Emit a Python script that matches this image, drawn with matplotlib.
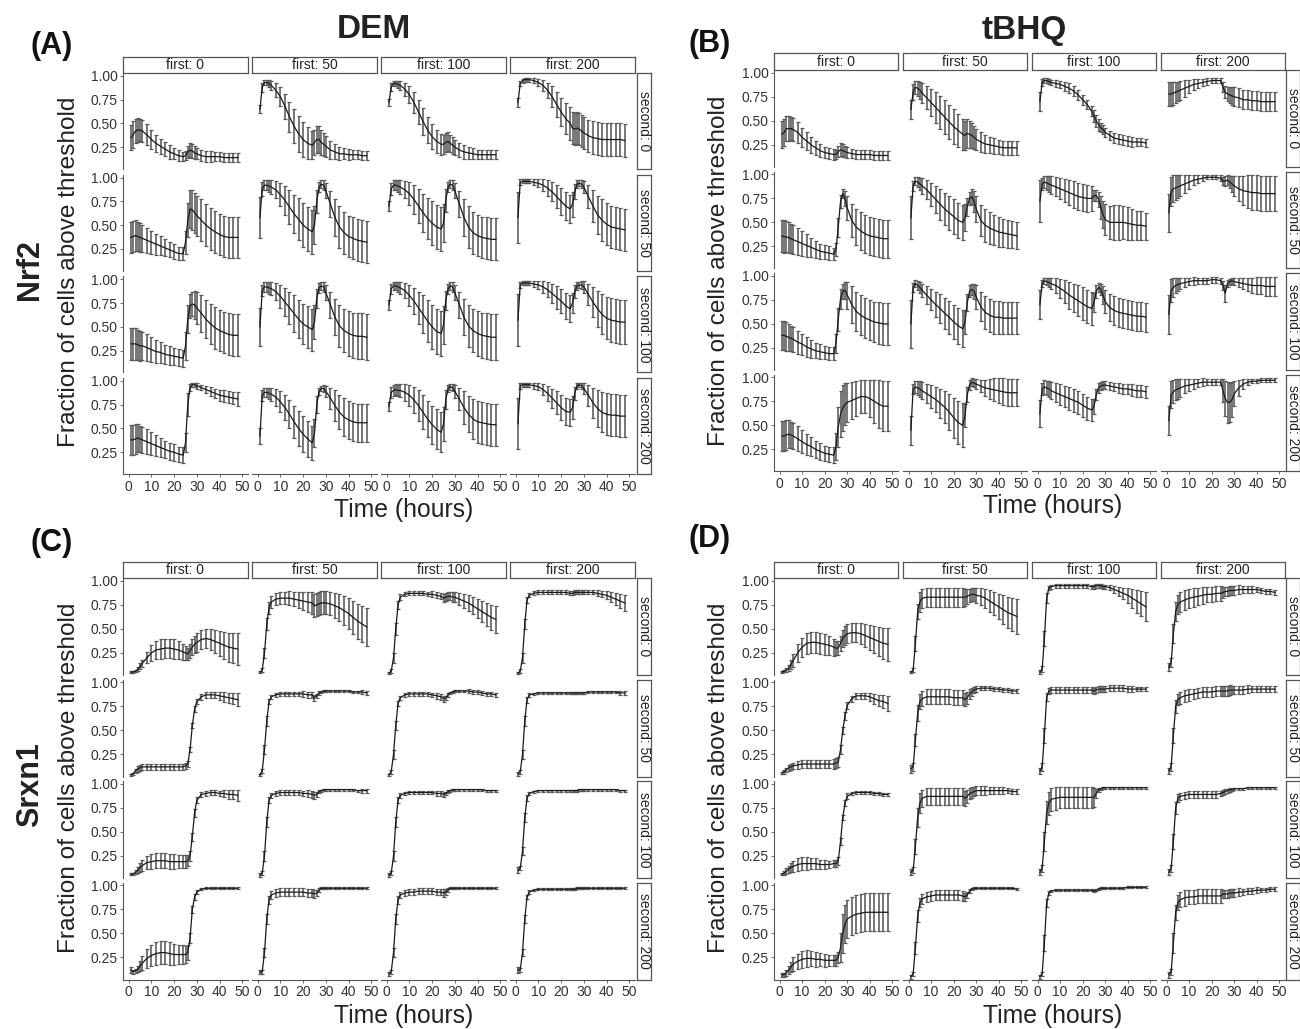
import numpy as np
import matplotlib
matplotlib.use("Agg")
import matplotlib.pyplot as plt

plt.rcParams['font.family'] = ['Liberation Sans', 'DejaVu Sans']

# time points (hours) shared by every series
TIME = [1, 2, 3, 4, 5, 6, 8, 10, 12, 14, 16, 18, 20, 22, 24,
        25, 26, 27, 28, 29, 30, 32, 34, 36, 38, 40, 42, 44, 46, 48]

FIRST_DOSES = [0, 50, 100, 200]
SECOND_DOSES = [0, 50, 100, 200]
X_TICKS = [0, 10, 20, 30, 40, 50]
Y_TICKS = [0.25, 0.50, 0.75, 1.00]

# values in percent, [second dose row][first dose column]
NRF2_DEM_MEAN = [
    [[35,38,42,43,43,42,38,33,29,26,23,20,18,16,15,16,20,22,21,19,18,16,15,15,15,15,14,14,14,14],
     [65,88,93,93,92,90,85,78,68,57,47,39,33,29,27,30,33,33,30,28,26,22,20,18,18,17,17,17,16,16],
     [72,88,92,92,91,90,86,80,72,62,52,43,36,31,28,28,30,31,29,27,25,22,20,19,18,17,17,17,17,17],
     [72,92,95,96,96,96,95,93,90,85,78,70,62,55,50,45,44,45,44,42,40,37,35,34,33,33,33,33,33,32]],
    [[37,38,39,38,37,36,34,32,30,28,26,24,22,20,20,32,55,67,66,63,60,55,50,46,43,40,38,37,37,37],
     [58,88,92,92,91,90,87,82,76,69,62,56,50,46,43,50,75,90,93,92,86,72,58,48,42,38,36,34,33,32],
     [70,88,92,92,91,90,87,83,77,70,63,57,52,48,46,52,76,90,93,92,86,72,58,48,42,39,37,36,35,35],
     [58,95,96,96,96,96,95,94,92,89,85,80,75,70,67,72,85,93,94,93,90,80,70,61,55,51,48,47,46,45]],
    [[32,32,32,31,30,30,28,26,24,23,21,20,19,18,17,30,58,72,74,73,70,64,58,53,49,46,44,42,41,41],
     [50,88,92,92,91,90,87,82,76,70,64,58,53,50,47,55,80,91,93,92,86,73,60,51,46,43,41,40,40,39],
     [73,90,93,93,92,91,88,83,77,70,63,56,50,45,43,52,78,90,93,92,86,73,60,51,46,43,41,40,39,39],
     [57,94,96,96,96,96,95,94,92,89,85,81,77,72,69,75,87,93,94,94,92,84,76,69,63,59,57,56,55,55]],
    [[38,38,39,40,39,38,36,34,32,30,28,26,25,23,22,35,75,93,96,96,95,93,91,89,87,85,84,83,82,81],
     [42,85,88,88,87,86,83,78,72,65,57,50,44,39,35,45,75,89,92,92,89,82,74,67,62,59,57,56,56,56],
     [73,88,90,91,90,90,88,85,80,74,67,60,54,49,46,55,80,92,94,93,89,81,72,65,60,57,56,55,54,54],
     [55,95,96,96,96,96,95,94,91,87,82,77,72,68,67,72,87,95,96,95,92,85,77,71,67,65,64,64,63,63]],
]
NRF2_DEM_ERR = [
    [[13,14,13,13,12,12,11,10,9,8,7,7,6,6,5,5,6,7,7,7,6,6,6,6,5,5,5,5,5,5],
     [4,5,3,3,4,5,7,10,13,16,18,19,18,17,15,13,14,14,13,12,11,9,8,7,6,6,5,5,5,5],
     [4,4,3,3,4,5,7,9,11,13,14,14,13,12,11,10,10,10,9,9,8,7,7,6,6,5,5,5,5,5],
     [5,3,2,2,2,2,3,4,6,8,11,13,15,16,17,17,17,17,17,17,17,17,17,17,17,17,17,17,17,17]],
    [[16,16,16,15,15,14,13,12,11,10,9,8,8,7,7,12,18,20,21,21,21,22,22,22,22,22,22,22,22,22],
     [22,7,5,5,6,7,9,12,15,18,20,22,23,23,23,20,12,5,4,5,8,14,19,22,22,22,22,22,22,22],
     [5,6,5,5,6,7,9,12,15,18,20,22,23,23,23,20,12,5,4,5,8,14,19,22,22,22,22,22,22,22],
     [27,3,2,2,2,2,3,4,6,8,10,12,14,15,15,13,8,4,3,4,6,12,17,20,22,22,22,22,22,22]],
    [[17,17,17,16,16,15,14,13,12,11,10,10,9,9,9,15,15,13,13,15,17,19,20,21,22,22,22,22,22,22],
     [20,6,5,5,6,7,9,12,15,17,19,20,21,22,22,18,10,5,4,5,8,14,19,22,23,24,24,24,24,24],
     [5,5,4,4,5,6,8,11,14,17,20,22,23,24,24,20,10,5,4,5,8,14,19,22,23,24,24,24,24,24],
     [27,3,2,2,2,2,3,4,6,8,10,12,13,14,14,11,7,4,3,4,6,11,16,19,21,22,23,23,23,23]],
    [[16,16,16,15,14,14,13,12,11,10,9,9,9,8,8,10,12,4,2,2,3,3,4,5,5,6,6,6,6,7],
     [8,6,5,5,6,7,9,11,13,15,17,18,19,19,18,15,9,4,3,4,6,11,16,18,20,20,20,20,20,20],
     [5,6,6,6,6,7,9,11,14,16,18,19,20,21,21,18,10,4,3,4,7,12,17,19,21,22,22,22,22,22],
     [27,3,2,2,2,2,3,4,6,8,10,12,13,14,14,12,7,3,2,3,6,11,16,19,21,22,22,22,22,22]],
]

NRF2_TBHQ_MEAN = [
    [[36,38,42,42,42,41,38,33,29,25,22,19,17,16,15,15,18,20,19,18,17,16,15,15,15,15,14,14,14,14],
     [62,80,85,84,82,79,74,69,64,59,54,49,44,40,36,35,37,36,35,33,31,28,26,25,24,23,22,22,22,22],
     [70,90,92,92,91,90,89,88,86,84,81,77,72,67,60,55,50,46,43,41,38,35,32,31,30,29,28,28,28,27],
     [78,78,79,80,81,82,84,86,88,89,90,91,92,92,92,85,80,78,77,76,75,74,72,72,71,71,70,70,70,70]],
    [[36,35,35,34,33,32,30,28,26,24,22,20,19,18,17,22,45,72,80,75,65,52,45,41,38,36,35,34,33,33],
     [55,88,93,92,90,88,84,79,74,69,64,60,56,52,50,55,66,75,77,72,64,52,47,44,42,40,39,38,37,36],
     [72,90,92,91,90,89,87,85,83,81,79,77,76,75,75,78,78,74,66,58,53,50,50,50,50,49,48,47,47,46],
     [60,82,85,86,87,88,90,92,94,95,96,97,97,97,96,93,93,94,92,90,88,85,83,82,81,81,80,80,80,80]],
    [[38,38,37,36,35,34,31,29,26,24,22,21,20,19,19,30,55,76,84,85,80,70,63,59,56,54,52,51,50,50],
     [50,88,92,90,88,85,80,75,70,66,61,57,52,48,45,52,72,84,86,84,78,68,62,59,57,57,56,56,56,56],
     [70,92,95,94,93,92,90,87,84,80,77,74,71,68,66,72,84,88,86,80,73,67,64,62,61,60,59,58,58,57],
     [60,85,88,90,91,92,93,94,95,95,95,95,96,96,95,90,82,92,94,95,94,93,92,91,90,90,90,89,89,89]],
    [[39,39,40,41,40,39,36,33,30,28,25,23,21,20,19,28,48,62,68,72,74,76,78,80,80,78,75,72,70,70],
     [45,88,90,89,88,86,83,80,77,73,69,64,58,53,50,60,82,92,95,94,93,91,89,88,87,86,85,84,84,84],
     [62,88,90,89,88,86,84,82,80,78,76,74,71,68,66,70,82,89,91,92,92,91,90,89,88,88,87,86,86,85],
     [55,82,85,87,88,89,91,92,93,94,95,95,95,95,95,86,78,74,74,77,83,89,93,95,96,96,97,97,97,97]],
]
NRF2_TBHQ_ERR = [
    [[14,14,13,13,12,12,11,10,9,8,7,7,6,6,6,5,6,7,7,6,6,5,5,5,5,5,5,5,5,5],
     [10,8,7,8,9,10,12,14,16,17,18,18,18,17,16,15,15,14,13,12,11,10,9,8,8,7,7,7,7,7],
     [10,4,3,3,3,3,4,4,5,5,5,5,5,5,5,6,6,6,5,5,5,5,5,5,5,5,5,4,4,4],
     [12,12,12,11,10,10,9,7,6,5,4,4,3,3,3,5,6,7,8,9,10,10,10,10,10,10,10,10,10,10]],
    [[17,17,16,16,15,15,14,13,12,10,9,8,7,7,6,7,10,7,5,8,13,17,19,20,20,20,20,20,20,20],
     [22,5,4,5,6,8,10,12,14,16,17,18,18,18,18,14,9,7,8,11,14,16,17,17,16,16,15,15,14,14],
     [22,6,6,7,8,9,10,11,12,13,14,14,14,14,13,6,6,8,12,14,16,17,18,18,17,17,16,15,15,14],
     [20,15,14,13,12,11,9,7,5,4,3,2,2,2,3,4,5,5,6,8,10,13,15,17,18,18,18,18,18,18]],
    [[15,15,15,14,13,13,12,11,10,9,8,8,7,7,7,10,12,10,8,9,14,19,20,21,21,21,21,22,22,22],
     [25,5,4,5,6,7,9,11,13,15,16,17,18,19,19,12,9,6,6,8,12,15,17,17,17,17,17,17,17,17],
     [15,4,3,4,5,6,8,10,12,14,15,16,17,17,17,10,7,5,6,9,12,14,15,15,15,15,15,15,15,15],
     [20,12,10,8,7,6,5,4,4,3,3,3,3,3,3,5,9,4,3,3,4,5,6,7,8,9,9,10,10,10]],
    [[16,16,16,15,14,14,13,12,11,10,9,9,8,8,8,14,21,24,24,22,20,19,18,17,17,19,22,25,26,26],
     [15,5,6,7,8,9,10,12,13,15,17,19,21,22,23,12,8,5,4,4,5,6,8,10,12,13,14,14,14,14],
     [14,6,7,7,8,9,10,11,11,12,12,12,12,12,11,8,6,5,4,4,4,4,4,5,5,5,6,6,6,6],
     [15,14,12,11,10,9,7,6,5,4,4,3,3,3,3,12,18,21,20,18,13,8,5,3,2,2,2,2,2,2]],
]

SRXN1_DEM_MEAN = [
    [[5,5,6,8,11,14,20,25,28,29,30,30,29,28,26,25,24,27,31,34,36,39,40,39,37,35,33,31,30,29],
     [5,7,25,55,72,78,81,82,82,82,81,80,79,78,77,74,75,76,77,77,77,76,74,72,69,66,62,58,55,52],
     [4,6,20,50,75,83,86,87,87,87,87,86,86,85,84,82,83,84,84,83,83,81,79,77,74,71,68,65,62,60],
     [4,6,20,55,80,85,87,88,88,88,88,88,88,88,87,87,88,88,88,88,88,88,88,87,86,85,83,81,79,77]],
    [[4,5,8,10,11,12,12,12,12,12,12,12,12,12,12,13,15,30,55,72,80,85,87,87,87,86,85,84,83,82],
     [4,8,30,60,80,85,87,88,88,88,88,88,88,87,87,84,86,89,90,91,91,91,91,91,91,91,90,90,90,89],
     [4,7,25,55,78,84,87,88,88,88,88,88,87,86,85,83,84,87,89,90,91,91,91,91,90,90,89,88,88,87],
     [5,7,25,60,82,87,88,89,89,89,89,89,89,89,89,89,89,89,89,89,89,90,90,90,90,90,90,90,89,89]],
    [[6,6,8,10,13,15,18,19,20,20,20,19,19,19,19,19,20,25,45,70,83,89,90,91,91,90,90,89,89,88],
     [5,7,25,60,83,88,90,91,91,91,91,91,90,90,89,88,89,92,93,94,94,94,94,94,94,94,94,93,93,93],
     [5,7,25,60,83,88,90,91,91,91,91,91,91,90,90,89,90,92,93,94,94,94,94,94,94,94,94,93,93,93],
     [10,12,30,65,85,90,92,93,93,93,93,93,93,93,93,93,93,93,94,94,94,94,94,94,94,94,94,94,93,93]],
    [[12,10,11,13,16,19,24,27,29,30,30,29,28,28,28,28,30,45,75,88,93,96,97,97,97,97,97,97,97,97],
     [10,10,30,65,85,90,92,93,93,93,93,93,93,92,92,91,92,95,97,97,97,97,97,97,97,97,97,97,97,97],
     [8,10,30,65,85,90,92,93,93,94,94,94,94,93,93,92,93,95,97,97,97,97,97,97,97,97,97,97,97,97],
     [12,12,30,65,88,93,95,96,96,96,96,96,96,96,96,96,96,97,97,97,97,97,97,97,97,97,97,97,97,97]],
]
SRXN1_DEM_ERR = [
    [[1,1,1,2,3,4,6,8,9,10,10,10,10,9,8,7,6,7,8,9,10,10,10,11,12,13,14,15,16,17],
     [1,2,5,6,6,6,6,6,6,7,7,8,9,10,11,12,12,12,12,12,12,12,13,14,15,16,17,18,19,20],
     [1,2,5,6,4,3,2,2,2,2,2,2,3,3,3,4,4,4,4,5,5,6,7,8,9,10,11,12,13,14],
     [1,2,5,5,3,2,2,2,2,2,2,2,2,2,2,2,2,2,2,2,2,2,2,3,3,4,5,6,7,8]],
    [[1,1,2,3,3,3,3,3,3,3,3,3,3,3,3,3,3,3,3,3,3,3,3,3,3,4,5,5,6,7],
     [1,2,5,5,3,2,2,2,2,2,2,2,3,3,3,3,2,2,1,1,1,1,1,1,1,1,1,1,2,2],
     [1,2,5,5,3,2,2,2,2,2,2,2,2,3,3,3,2,2,1,1,1,1,1,2,2,2,2,2,2,2],
     [2,2,5,5,3,2,1,1,1,1,1,1,1,1,1,1,1,1,1,1,1,1,1,1,1,1,1,1,2,2]],
    [[1,1,2,3,5,6,7,8,8,8,8,8,8,7,7,7,6,5,4,4,3,3,3,3,3,3,4,5,5,6],
     [2,2,5,5,3,3,3,3,3,3,3,3,3,4,4,4,3,2,1,1,1,1,1,1,1,1,1,1,2,2],
     [2,2,5,5,3,3,2,2,2,2,2,2,2,3,3,3,2,2,1,1,1,1,1,1,1,1,1,1,1,1],
     [3,2,4,5,3,2,1,1,1,1,1,1,1,1,1,1,1,1,1,1,1,1,1,1,1,1,1,1,1,1]],
    [[3,2,2,3,5,7,10,11,12,12,12,12,11,10,10,9,8,5,4,3,2,1,1,1,1,1,1,1,1,1],
     [2,2,5,5,4,4,4,4,4,4,4,4,4,4,4,4,3,2,1,1,1,1,1,1,1,1,1,1,1,1],
     [2,2,5,5,4,3,3,3,3,3,3,3,3,3,3,4,3,2,1,1,1,1,1,1,1,1,1,1,1,1],
     [3,2,4,4,2,2,1,1,1,1,1,1,1,1,1,1,1,1,1,1,1,1,1,1,1,1,1,1,1,1]],
]

SRXN1_TBHQ_MEAN = [
    [[5,6,7,9,13,17,25,31,35,36,36,35,34,33,31,30,30,35,40,43,45,46,46,45,43,41,39,37,35,34],
     [5,7,35,68,78,82,83,83,83,83,83,83,83,83,83,83,84,85,86,86,85,84,82,79,76,73,70,67,65,63],
     [5,8,40,82,93,94,95,95,95,95,95,95,95,95,94,94,95,95,95,94,94,93,91,89,87,85,82,79,76,73],
     [10,15,45,68,75,78,80,82,83,84,85,86,86,87,87,88,89,89,90,90,90,91,91,91,91,91,90,89,89,88]],
    [[6,7,9,11,12,13,14,15,15,15,15,15,15,15,15,16,17,30,50,65,76,83,86,86,86,85,83,81,80,78],
     [10,12,40,68,80,83,85,85,85,85,85,85,84,84,84,82,84,88,90,92,93,94,94,94,93,93,92,92,91,91],
     [8,12,45,85,91,92,92,92,92,92,92,92,92,92,92,91,92,93,93,93,93,94,94,94,94,93,93,93,93,93],
     [8,12,45,75,82,84,86,87,88,89,90,90,90,91,91,91,91,91,92,92,92,92,92,93,93,93,93,93,93,93]],
    [[6,7,9,11,13,14,16,17,17,17,17,16,16,16,17,17,20,40,65,80,87,90,91,91,91,91,90,90,89,89],
     [8,10,35,65,80,85,87,87,87,87,87,87,87,87,87,85,87,90,91,92,93,93,93,93,93,93,93,93,92,92],
     [8,12,40,70,80,84,85,86,86,86,86,86,86,86,86,86,90,94,95,96,96,96,96,96,96,96,96,96,96,96],
     [8,12,40,75,85,87,88,89,89,89,89,89,89,89,90,91,92,93,94,94,95,95,95,96,96,96,96,96,96,96]],
    [[7,7,9,12,15,18,21,23,24,24,23,23,22,22,22,22,25,35,50,60,65,68,70,71,72,72,72,72,72,72],
     [5,8,35,68,82,86,88,89,90,90,90,90,90,90,89,88,90,94,96,97,97,97,97,97,97,97,97,97,97,96],
     [5,8,40,82,92,94,95,95,95,95,95,95,95,95,95,94,95,96,97,97,97,97,97,97,97,98,98,98,98,98],
     [7,10,40,72,82,85,87,88,88,89,89,89,89,89,89,91,91,91,92,92,92,93,93,94,94,95,95,95,96,96]],
]
SRXN1_TBHQ_ERR = [
    [[1,1,2,3,5,7,9,10,11,11,11,11,11,10,9,7,7,8,9,10,10,10,10,11,12,13,14,15,16,17],
     [1,2,8,8,10,10,10,10,10,10,10,10,10,10,10,9,8,7,7,7,8,9,10,11,12,13,15,16,17,18],
     [2,3,8,5,2,2,2,2,2,2,2,2,2,2,2,2,2,2,2,2,2,3,4,5,6,8,10,12,13,15],
     [4,5,10,10,10,10,10,10,10,9,9,8,8,8,8,6,5,5,5,5,5,5,4,4,4,3,3,3,3,3]],
    [[1,2,2,3,3,3,4,4,4,4,4,4,4,4,5,5,5,5,4,4,4,3,3,3,3,4,5,6,7,8],
     [4,4,6,8,8,8,8,8,8,8,8,8,8,8,8,7,6,5,4,3,3,2,2,2,2,2,2,2,2,2],
     [3,4,8,4,3,3,3,3,3,3,3,3,3,3,3,3,3,3,3,3,3,3,3,3,3,3,3,2,2,2],
     [3,4,8,7,6,6,6,6,5,5,5,5,5,5,5,5,5,5,5,4,4,4,4,4,3,3,3,3,3,3]],
    [[1,2,3,4,5,6,7,7,7,6,6,5,5,4,4,4,4,4,3,3,3,2,2,2,2,2,2,2,2,2],
     [3,3,8,10,10,9,9,9,9,9,9,9,9,9,9,8,7,6,6,5,5,5,5,4,4,4,4,3,3,3],
     [3,4,10,12,12,12,12,11,11,11,11,11,11,11,11,10,5,2,1,1,1,1,1,1,1,1,1,1,1,1],
     [3,4,8,6,4,4,4,4,4,4,4,4,4,4,3,3,3,2,2,1,1,1,1,1,1,1,1,1,1,1]],
    [[2,2,3,4,5,7,8,9,9,8,8,7,7,6,6,6,6,15,20,20,20,20,20,20,20,20,20,20,20,20],
     [2,2,6,6,5,5,5,5,5,5,5,5,5,5,5,4,3,2,1,1,1,1,1,1,1,1,1,1,1,1],
     [2,2,8,4,2,1,1,1,1,1,1,1,1,1,1,1,1,1,1,1,1,1,1,1,1,1,1,1,1,1],
     [3,3,10,8,8,8,8,7,7,7,7,7,7,7,7,4,4,4,4,4,4,4,3,3,3,3,2,2,2,2]],
]

W, H = 1300, 1029
fig = plt.figure(figsize=(W / 100, H / 100), dpi=100)
fig.patch.set_facecolor('white')

AXIS_COL = '#555555'
TEXT_COL = '#333333'


def rect(left, top, w, h):
    # pixel box -> figure fraction
    return [left / W, 1 - (top + h) / H, w / W, h / H]


def strip(left, top, w, h, label, rotation=0):
    sax = fig.add_axes(rect(left, top, w, h))
    sax.set_xticks([])
    sax.set_yticks([])
    for sp in sax.spines.values():
        sp.set_color(AXIS_COL)
        sp.set_linewidth(0.9)
    sax.text(0.5, 0.5, label, ha='center', va='center', rotation=rotation,
             fontsize=10, color='#222222', transform=sax.transAxes)


def draw_panel(means, errs, col_left, col_w, col_pitch, row_top, row_h, row_pitch,
               strip_top, rstrip_left, rstrip_w):
    t = np.array(TIME)
    for r in range(4):
        for c in range(4):
            left = col_left + c * col_pitch
            top = row_top + r * row_pitch
            ax = fig.add_axes(rect(left, top, col_w, row_h))
            m = np.array(means[r][c]) / 100
            e = np.array(errs[r][c]) / 100
            lower = e
            upper = np.minimum(m + e, 0.995) - m
            ax.errorbar(t, m, yerr=[lower, upper], fmt='-', color='#1a1a1a', lw=0.9,
                        ecolor='#595959', elinewidth=1.15, capsize=1.7, capthick=0.9)
            ax.set_xlim(-2.5, 52.5)
            ax.set_ylim(0.02, 1.03)
            for sp in ['top', 'right']:
                ax.spines[sp].set_visible(False)
            ax.spines['left'].set_visible(c == 0)
            ax.spines['bottom'].set_visible(r == 3)
            ax.spines['left'].set_color(AXIS_COL)
            ax.spines['bottom'].set_color(AXIS_COL)
            ax.set_xticks(X_TICKS)
            ax.set_yticks(Y_TICKS)
            ax.set_yticklabels([f'{v:.2f}' for v in Y_TICKS])
            ax.tick_params(axis='both', labelsize=10, colors=AXIS_COL, labelcolor=TEXT_COL,
                           length=2.5, width=0.6, pad=1.5)
            ax.tick_params(axis='y', left=(c == 0), labelleft=(c == 0))
            ax.tick_params(axis='x', bottom=(r == 3), labelbottom=(r == 3))
            ax.patch.set_alpha(0)
            if r == 0:
                strip(left, strip_top, col_w, row_top - strip_top,
                      f'first: {FIRST_DOSES[c]}')
            if c == 3:
                strip(rstrip_left, top, rstrip_w, row_h,
                      f'second: {SECOND_DOSES[r]}', rotation=270)


# (A) DEM / Nrf2
draw_panel(NRF2_DEM_MEAN, NRF2_DEM_ERR, 123, 125, 129, 73, 96, 101.7, 57, 637, 14)
# (B) tBHQ / Nrf2
draw_panel(NRF2_TBHQ_MEAN, NRF2_TBHQ_ERR, 774, 124, 129, 70, 97, 101.5, 53, 1286, 14)
# (C) DEM / Srxn1
draw_panel(SRXN1_DEM_MEAN, SRXN1_DEM_ERR, 123, 125, 129, 578, 97, 101.5, 562, 637, 14)
# (D) tBHQ / Srxn1
draw_panel(SRXN1_TBHQ_MEAN, SRXN1_TBHQ_ERR, 774, 124, 129, 578, 97, 101.5, 562, 1286, 14)


def ftext(x, y, s, **kw):
    fig.text(x / W, 1 - y / H, s, **kw)


ylab = 'Fraction of cells above threshold'
for x, y in [(69, 272), (719, 271), (69, 778), (719, 778)]:
    ftext(x, y, ylab, rotation=90, ha='center', va='center', fontsize=17.6, color='#222222')
for x, y in [(404, 510), (1053, 506), (404, 1016), (1053, 1016)]:
    ftext(x, y, 'Time (hours)', ha='center', va='center', fontsize=17.8, color='#222222')

ftext(374, 30, 'DEM', ha='center', va='center', fontsize=24, fontweight='bold', color='#222222')
ftext(1024, 31, 'tBHQ', ha='center', va='center', fontsize=24, fontweight='bold', color='#222222')
ftext(30, 270, 'Nrf2', rotation=90, ha='center', va='center', fontsize=22, fontweight='bold', color='#222222')
ftext(30, 785, 'Srxn1', rotation=90, ha='center', va='center', fontsize=22, fontweight='bold', color='#222222')

for x, y, s in [(30, 46, '(A)'), (688, 44, '(B)'), (30, 543, '(C)'), (688, 539, '(D)')]:
    ftext(x, y, s, ha='left', va='center', fontsize=22, fontweight='bold', color='#111111')

fig.savefig('out.png', dpi=100, facecolor='white')
